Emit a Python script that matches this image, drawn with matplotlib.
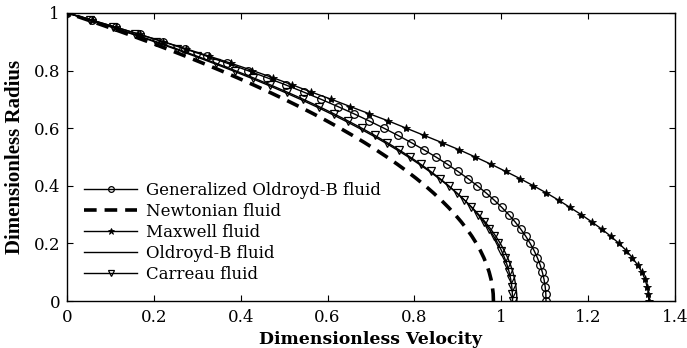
import matplotlib
matplotlib.use("Agg")
import matplotlib.pyplot as plt

radius = [0.000, 0.025, 0.050, 0.075, 0.100, 0.125, 0.150, 0.175, 0.200, 0.225,
          0.250, 0.275, 0.300, 0.325, 0.350, 0.375, 0.400, 0.425, 0.450, 0.475,
          0.500, 0.525, 0.550, 0.575, 0.600, 0.625, 0.650, 0.675, 0.700, 0.725,
          0.750, 0.775, 0.800, 0.825, 0.850, 0.875, 0.900, 0.925, 0.950, 0.975, 1.000]

gen_oldroyd_b = [1.103, 1.1026, 1.1011, 1.0985, 1.0946, 1.0896, 1.0832, 1.0756, 1.0666, 1.0563,
                 1.0446, 1.0316, 1.0171, 1.0012, 0.9839, 0.9651, 0.9449, 0.9232, 0.9000, 0.8754,
                 0.8493, 0.8216, 0.7925, 0.7618, 0.7295, 0.6958, 0.6605, 0.6236, 0.5852, 0.5452,
                 0.5037, 0.4605, 0.4157, 0.3694, 0.3215, 0.2720, 0.2208, 0.1680, 0.1136, 0.0576, 0.0]

newtonian = [0.982, 0.9814, 0.9795, 0.9765, 0.9722, 0.9667, 0.9599, 0.9519, 0.9427, 0.9323,
             0.9206, 0.9077, 0.8936, 0.8783, 0.8617, 0.8439, 0.8249, 0.8046, 0.7831, 0.7604,
             0.7365, 0.7113, 0.6850, 0.6573, 0.6285, 0.5984, 0.5671, 0.5346, 0.5008, 0.4658,
             0.4296, 0.3922, 0.3535, 0.3136, 0.2725, 0.2302, 0.1866, 0.1418, 0.0957, 0.0485, 0.0]

maxwell = [1.340, 1.339, 1.336, 1.331, 1.324, 1.314, 1.302, 1.288, 1.271, 1.252,
           1.231, 1.208, 1.184, 1.158, 1.132, 1.104, 1.074, 1.043, 1.010, 0.976,
           0.940, 0.903, 0.863, 0.822, 0.781, 0.740, 0.696, 0.652, 0.609, 0.563,
           0.519, 0.474, 0.427, 0.378, 0.327, 0.275, 0.222, 0.168, 0.113, 0.057, 0.0]

oldroyd_b = [1.036, 1.0355, 1.0338, 1.0309, 1.0268, 1.0214, 1.0148, 1.0069, 0.9978, 0.9873,
             0.9756, 0.9626, 0.9482, 0.9326, 0.9156, 0.8973, 0.8777, 0.8567, 0.8344, 0.8108,
             0.7858, 0.7595, 0.7318, 0.7028, 0.6724, 0.6407, 0.6076, 0.5732, 0.5374, 0.5001,
             0.4616, 0.4216, 0.3803, 0.3376, 0.2936, 0.2481, 0.2013, 0.1530, 0.1034, 0.0524, 0.0]

carreau = [1.026, 1.0256, 1.0242, 1.0218, 1.0182, 1.0135, 1.0076, 1.0005, 0.9922, 0.9826,
           0.9717, 0.9595, 0.9461, 0.9313, 0.9152, 0.8977, 0.8789, 0.8588, 0.8372, 0.8143,
           0.7900, 0.7643, 0.7371, 0.7086, 0.6786, 0.6472, 0.6144, 0.5801, 0.5443, 0.5071,
           0.4685, 0.4283, 0.3867, 0.3436, 0.2990, 0.2530, 0.2054, 0.1563, 0.1057, 0.0536, 0.0]

labels = ["Generalized Oldroyd-B fluid", "Newtonian fluid", "Maxwell fluid",
          "Oldroyd-B fluid", "Carreau fluid"]
xticks = [0, 0.2, 0.4, 0.6, 0.8, 1, 1.2, 1.4]
yticks = [0, 0.2, 0.4, 0.6, 0.8, 1]

plt.rcParams['font.family'] = ['DejaVu Serif', 'Liberation Serif']

fig = plt.figure(figsize=(6.87, 3.48), dpi=100)
ax = fig.add_axes([0.0975, 0.135, 0.885, 0.828])

ax.plot(gen_oldroyd_b, radius, color='black', lw=1.0, marker='o', ms=5.5,
        mfc='none', mec='black', mew=0.9, label=labels[0])
ax.plot(newtonian, radius, color='black', lw=2.6, ls=(0, (3.5, 2.2)), label=labels[1])
ax.plot(maxwell, radius, color='black', lw=1.0, marker='*', ms=6,
        mfc='black', mec='black', mew=0.6, label=labels[2])
ax.plot(oldroyd_b, radius, color='black', lw=1.0, label=labels[3])
ax.plot(carreau, radius, color='black', lw=1.0, marker='v', ms=6,
        mfc='none', mec='black', mew=0.9, label=labels[4])

ax.set_xlim(0, 1.4)
ax.set_ylim(0, 1)
ax.set_xticks(xticks)
ax.set_xticklabels([f"{t:g}" for t in xticks])
ax.set_yticks(yticks)
ax.set_yticklabels([f"{t:g}" for t in yticks])
ax.tick_params(direction='in', top=True, right=True, length=4, width=0.8,
               labelsize=12)
ax.tick_params(axis='x', pad=6)
ax.tick_params(axis='y', pad=5)
for s in ax.spines.values():
    s.set_linewidth(1.0)

ax.set_xlabel("Dimensionless Velocity", fontsize=12.4, fontweight='bold', labelpad=3)
ax.set_ylabel("Dimensionless Radius", fontsize=15, fontweight='bold', labelpad=6,
              family=['Liberation Serif', 'DejaVu Serif'])

leg = ax.legend(loc='upper left', bbox_to_anchor=(0.028, 0.413), frameon=False,
                fontsize=12, handlelength=3.2, handletextpad=0.5,
                labelspacing=0.24, borderpad=0.0, borderaxespad=0.0, markerscale=0.75)

fig.savefig("out.png", dpi=100)
